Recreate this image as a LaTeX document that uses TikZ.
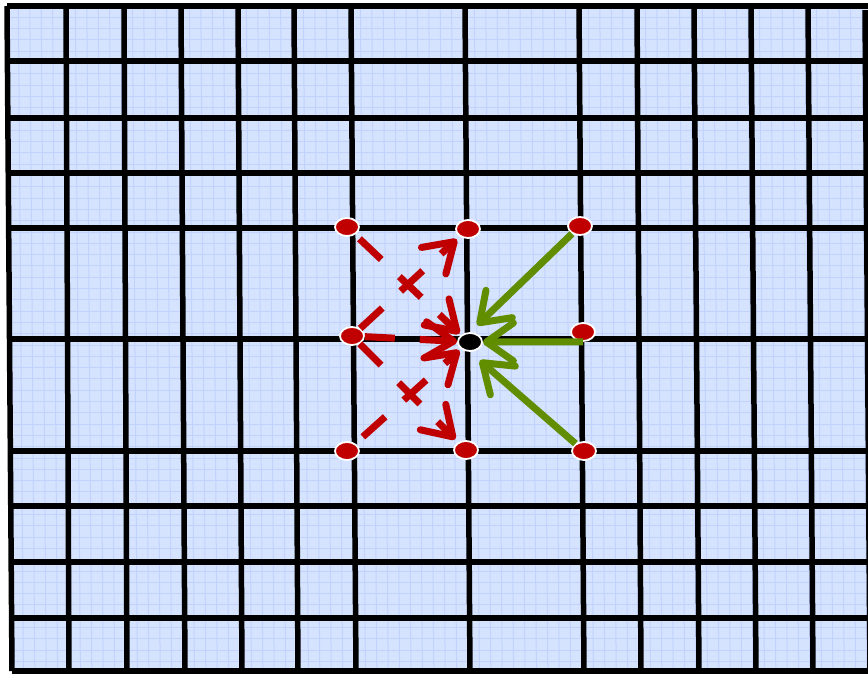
\documentclass[tikz,border=0pt]{standalone}
\usetikzlibrary{shapes.geometric,arrows.meta}
\definecolor{cellblue}{RGB}{214,227,255}
\definecolor{fineblue}{RGB}{193,211,252}
\definecolor{dotred}{RGB}{192,0,0}
\definecolor{arrgreen}{RGB}{96,142,0}
\begin{document}
\begin{tikzpicture}[x=1pt,y=-1pt,
  gridline/.style={line width=5.5pt,black},
  fineline/.style={line width=1pt,fineblue},
  reddot/.style={ellipse,fill=dotred,draw=white,line width=1.8pt,minimum width=24pt,minimum height=18pt,inner sep=0pt},
  centerdot/.style={reddot,fill=black},
  greenarrow/.style={arrgreen,line width=7pt,-{Straight Barb[length=27pt,width=38pt,round]}},
  redarrow/.style={dotred,line width=7pt,dash pattern=on 30pt off 25pt,-{Straight Barb[length=28pt,width=36pt,round]}}
]
\useasboundingbox (0,0) rectangle (868,674);
% background
\fill[white] (0,0) rectangle (868,674);
\fill[cellblue] (7,6) -- (866,6) -- (871,671) -- (12,671) -- cycle;
\begin{scope}
  \clip (7,6) -- (866,6) -- (871,671) -- (12,671) -- cycle;
  \foreach \i in {0,...,77} \draw[fineline] ({7+11.4*\i},6) -- ({12+11.4*\i},671);
  \foreach \j in {0,...,59} \draw[fineline] (0,{6+11.3*\j}) -- (875,{6+11.3*\j});
\end{scope}
% grid lines
\foreach \a/\b in {66/69,124/127,181/185,238/242,294/298,351/356,465/470,579/584,637/641,694/699,751/756,808/813}
  \draw[gridline] (\a,6) -- (\b,671);
\foreach \y in {61,118,173,228,339,451,506,562,618}
  \draw[gridline] ({7+5*(\y-6)/665},\y) -- (872,\y);
% border
\draw[gridline] (7,6) -- (868,6);
\draw[gridline] (7,6) -- (12,671);
\draw[gridline] (12,671) -- (872,671);
\draw[gridline] (865,10) -- (870,674);
% points
\node[reddot] (TL) at (347,227) {};
\node[reddot] (TM) at (468,229) {};
\node[reddot] (TR) at (580,226) {};
\node[reddot] (LM) at (352,336) {};
\node[centerdot] (C) at (470,342) {};
\node[reddot] (RM) at (583,332) {};
\node[reddot] (BL) at (347,451) {};
\node[reddot] (BM) at (466,450) {};
\node[reddot] (BR) at (584,451) {};
% red dashed arrows
\draw[redarrow,shorten <=6pt,shorten >=2pt] (TL) -- (C.north west);
\draw[redarrow] (LM) -- (C);
\draw[redarrow,shorten <=10pt,shorten >=2pt] (BL) -- (C.south west);
\draw[redarrow,shorten >=4pt] (LM) -- (TM);
\draw[redarrow,shorten >=4pt] (LM) -- (BM);
% green arrows
\draw[greenarrow,shorten >=10pt] (TR) -- (C.north);
\draw[greenarrow] (RM.south) -- (C);
\draw[greenarrow,shorten >=13pt] (BR) -- (C.south);
\end{tikzpicture}
\end{document}
